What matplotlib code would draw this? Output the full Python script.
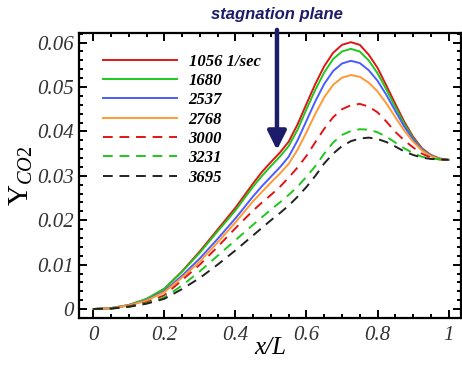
import matplotlib
matplotlib.use("Agg")
import matplotlib.pyplot as plt
from matplotlib.ticker import MultipleLocator

plt.rcParams['mathtext.fontset'] = 'custom'
plt.rcParams['mathtext.rm'] = 'Liberation Serif'
plt.rcParams['mathtext.it'] = 'Liberation Serif:italic'

# x/L positions shared by all curves
x = [0, 0.05, 0.1, 0.15, 0.2, 0.25, 0.3, 0.35, 0.4, 0.45, 0.475, 0.5, 0.525, 0.55,
     0.575, 0.6, 0.625, 0.65, 0.675, 0.7, 0.725, 0.75, 0.775, 0.8, 0.825, 0.85,
     0.875, 0.9, 0.925, 0.95, 0.975, 1.0]

# Y_CO2 for each strain rate
y_1056 = [0, 0.0002, 0.0009, 0.0022, 0.0045, 0.0085, 0.0130, 0.0179, 0.0228, 0.0283,
          0.0309, 0.0331, 0.0352, 0.0377, 0.0416, 0.0462, 0.0507, 0.0547, 0.0577, 0.0595,
          0.0601, 0.0595, 0.0573, 0.0543, 0.0503, 0.0462, 0.0422, 0.0388, 0.0362, 0.0347,
          0.0339, 0.0336]
y_1680 = [0, 0.0002, 0.0009, 0.0023, 0.0046, 0.0084, 0.0127, 0.0175, 0.0222, 0.0276,
          0.0300, 0.0322, 0.0343, 0.0367, 0.0404, 0.0450, 0.0494, 0.0533, 0.0563, 0.0580,
          0.0586, 0.0580, 0.0560, 0.0531, 0.0494, 0.0455, 0.0417, 0.0385, 0.0360, 0.0346,
          0.0338, 0.0336]
y_2537 = [0, 0.0002, 0.0008, 0.0020, 0.0040, 0.0075, 0.0114, 0.0158, 0.0204, 0.0254,
          0.0277, 0.0298, 0.0319, 0.0343, 0.0380, 0.0424, 0.0468, 0.0507, 0.0536, 0.0553,
          0.0559, 0.0554, 0.0538, 0.0514, 0.0482, 0.0446, 0.0411, 0.0382, 0.0359, 0.0345,
          0.0338, 0.0336]
y_2768 = [0, 0.0002, 0.0008, 0.0019, 0.0038, 0.0071, 0.0107, 0.0150, 0.0195, 0.0243,
          0.0264, 0.0285, 0.0305, 0.0327, 0.0359, 0.0398, 0.0440, 0.0477, 0.0505, 0.0521,
          0.0527, 0.0523, 0.0510, 0.0490, 0.0463, 0.0432, 0.0402, 0.0377, 0.0357, 0.0344,
          0.0338, 0.0336]
y_3000 = [0, 0.0001, 0.0006, 0.0015, 0.0031, 0.0065, 0.0100, 0.0140, 0.0182, 0.0222,
          0.0240, 0.0257, 0.0275, 0.0296, 0.0319, 0.0345, 0.0376, 0.0406, 0.0432, 0.0450,
          0.0459, 0.0462, 0.0456, 0.0443, 0.0422, 0.0399, 0.0380, 0.0364, 0.0350, 0.0341,
          0.0337, 0.0336]
y_3231 = [0, 0.0001, 0.0005, 0.0013, 0.0026, 0.0053, 0.0085, 0.0120, 0.0155, 0.0190,
          0.0207, 0.0224, 0.0240, 0.0257, 0.0276, 0.0298, 0.0322, 0.0350, 0.0375, 0.0392,
          0.0401, 0.0405, 0.0404, 0.0398, 0.0388, 0.0375, 0.0362, 0.0351, 0.0343, 0.0339,
          0.0337, 0.0336]
y_3695 = [0, 0.0001, 0.0005, 0.0012, 0.0023, 0.0045, 0.0070, 0.0100, 0.0132, 0.0166,
          0.0183, 0.0200, 0.0216, 0.0233, 0.0253, 0.0275, 0.0300, 0.0328, 0.0350, 0.0367,
          0.0378, 0.0384, 0.0386, 0.0383, 0.0376, 0.0366, 0.0355, 0.0347, 0.0341, 0.0338,
          0.0337, 0.0336]

labels = ['1056 1/sec', '1680', '2537', '2768', '3000', '3231', '3695']
series = [y_1056, y_1680, y_2537, y_2768, y_3000, y_3231, y_3695]
colors = ['#e01515', '#1ec81e', '#4a5cff', '#ff9a33', '#e01515', '#1ec81e', '#222222']
dashed = [False, False, False, False, True, True, True]

navy = '#1c1c6a'

fig = plt.figure(figsize=(4.62, 3.65), dpi=100)
ax = fig.add_axes([0.171, 0.129, 0.827, 0.781])

for ys, lab, c, d in zip(series, labels, colors, dashed):
    if d:
        ax.plot(x, ys, color=c, lw=1.4, dashes=(5, 3.5), label=lab)
    else:
        ax.plot(x, ys, color=c, lw=1.4, label=lab)

ax.set_xlim(-0.04, 1.035)
ax.set_ylim(-0.002, 0.0622)
ax.xaxis.set_minor_locator(MultipleLocator(0.05))
ax.yaxis.set_minor_locator(MultipleLocator(0.002))
ax.set_xticks([0, 0.2, 0.4, 0.6, 0.8, 1.0])
ax.set_xticklabels(['0', '0.2', '0.4', '0.6', '0.8', '1'])
ax.set_yticks([0, 0.01, 0.02, 0.03, 0.04, 0.05, 0.06])
ax.set_yticklabels(['0', '0.01', '0.02', '0.03', '0.04', '0.05', '0.06'])

ax.tick_params(which='both', direction='in', top=True, right=True, width=1.4)
ax.tick_params(which='major', length=6)
ax.tick_params(which='minor', length=3)
ax.tick_params(axis='x', pad=6)
for lbl in ax.get_xticklabels() + ax.get_yticklabels():
    lbl.set_family('Liberation Serif')
    lbl.set_style('italic')
    lbl.set_fontsize(15)
    lbl.set_color('#333333')
for s in ax.spines.values():
    s.set_linewidth(1.6)

ax.set_xlabel('x/L', family='Liberation Serif', style='italic', fontsize=18, labelpad=-6)
ax.set_ylabel(r'$\mathrm{Y}_{CO2}$', fontsize=21, labelpad=2)

leg = ax.legend(loc='upper left', bbox_to_anchor=(0.024, 0.98), frameon=False,
                handlelength=4.4, handletextpad=0.72, labelspacing=0.2,
                prop={'family': 'Liberation Serif', 'style': 'italic',
                      'weight': 'bold', 'size': 12})

ax.annotate('', xy=(0.517, 0.0352), xytext=(0.517, 0.0635),
            arrowprops=dict(arrowstyle='-|>', color=navy, lw=3.2, mutation_scale=28),
            annotation_clip=False)
ax.text(0.517, 0.0664, 'stagnation plane', ha='center', va='center', color=navy,
        family='Liberation Sans', style='italic', weight='bold', fontsize=12,
        clip_on=False)

fig.savefig('out.png', dpi=100)
